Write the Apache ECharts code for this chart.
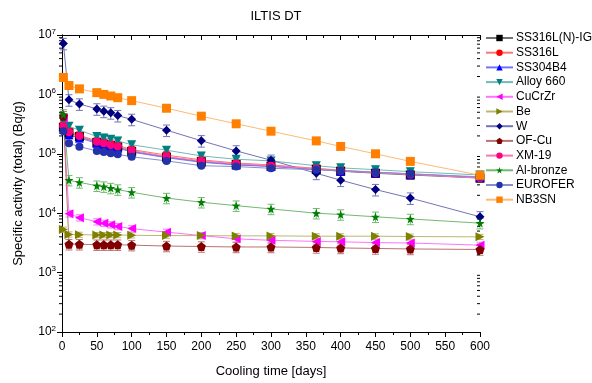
<!DOCTYPE html>
<html>
<head>
<meta charset="utf-8">
<script src="https://cdn.jsdelivr.net/npm/echarts@6/dist/echarts.min.js"></script>
<style>
  html, body { margin: 0; padding: 0; background: #fff; }
  #chart { width: 592px; height: 383px; }
</style>
</head>
<body>
<div id="chart"></div>
<script>
// cooling time points (days)
const days = [2, 10, 25, 50, 60, 70, 80, 100, 150, 200, 250, 300, 365, 400, 450, 500, 600];

const ss316lnIg = [2.8e5, 2.25e5, 1.95e5, 1.55e5, 1.45e5, 1.37e5, 1.3e5, 1.1e5, 8.8e4, 7.4e4, 6.6e4, 6.2e4, 5.5e4, 5.1e4, 4.7e4, 4.4e4, 3.9e4];
const ss316l = [3.0e5, 2.4e5, 2.05e5, 1.65e5, 1.55e5, 1.45e5, 1.38e5, 1.18e5, 9.5e4, 7.9e4, 7.0e4, 6.5e4, 5.7e4, 5.3e4, 4.9e4, 4.6e4, 4.0e4];
const ss304b4 = [2.6e5, 2.1e5, 1.85e5, 1.5e5, 1.4e5, 1.32e5, 1.25e5, 1.07e5, 8.6e4, 7.2e4, 6.5e4, 6.1e4, 5.5e4, 5.1e4, 4.8e4, 4.5e4, 4.0e4];
const alloy660 = [3.5e5, 2.9e5, 2.5e5, 1.95e5, 1.85e5, 1.75e5, 1.65e5, 1.42e5, 1.15e5, 9.2e4, 8.1e4, 7.6e4, 6.3e4, 5.8e4, 5.4e4, 5.0e4, 4.4e4];
const cucrzr = [4.0e5, 9.8e3, 8.4e3, 7.2e3, 6.8e3, 6.4e3, 6.0e3, 5.5e3, 4.8e3, 4.2e3, 3.7e3, 3.5e3, 3.35e3, 3.3e3, 3.2e3, 3.15e3, 2.9e3];
const be = [5.3e3, 4.4e3, 4.35e3, 4.3e3, 4.3e3, 4.3e3, 4.3e3, 4.25e3, 4.2e3, 4.2e3, 4.15e3, 4.15e3, 4.1e3, 4.1e3, 4.1e3, 4.05e3, 4.0e3];
const w = [7.2e6, 8.1e5, 6.9e5, 5.7e5, 5.2e5, 4.9e5, 4.4e5, 3.8e5, 2.5e5, 1.66e5, 1.12e5, 7.8e4, 4.7e4, 3.6e4, 2.5e4, 1.8e4, 8.7e3];
const ofCu = [4.3e5, 3.0e3, 3.0e3, 2.95e3, 2.95e3, 2.95e3, 2.95e3, 2.9e3, 2.8e3, 2.75e3, 2.7e3, 2.7e3, 2.65e3, 2.6e3, 2.55e3, 2.5e3, 2.45e3];
const xm19 = [2.9e5, 2.3e5, 2.0e5, 1.6e5, 1.5e5, 1.4e5, 1.33e5, 1.14e5, 9.0e4, 7.6e4, 6.8e4, 6.3e4, 5.6e4, 5.2e4, 4.8e4, 4.5e4, 3.9e4];
const alBronze = [4.6e5, 3.6e4, 3.3e4, 2.9e4, 2.8e4, 2.65e4, 2.5e4, 2.25e4, 1.8e4, 1.53e4, 1.34e4, 1.18e4, 1.0e4, 9.5e3, 8.7e3, 8.0e3, 6.8e3];
const eurofer = [2.4e5, 1.5e5, 1.32e5, 1.12e5, 1.07e5, 1.02e5, 9.8e4, 8.9e4, 7.6e4, 6.3e4, 6.1e4, 5.7e4, 5.4e4, 5.2e4, 4.9e4, 4.6e4, 4.1e4];
const nb3sn = [1.93e6, 1.41e6, 1.24e6, 1.07e6, 1.0e6, 0.94e6, 0.88e6, 0.785e6, 0.585e6, 0.43e6, 0.32e6, 0.24e6, 0.165e6, 0.133e6, 1.0e5, 7.45e4, 4.35e4];

// relative uncertainty per series
const relErr = {
  'SS316L(N)-IG': 0.15, 'SS316L': 0.15, 'SS304B4': 0.15, 'Alloy 660': 0.15,
  'CuCrZr': 0.12, 'Be': 0.1, 'W': 0.22, 'OF-Cu': 0.2, 'XM-19': 0.15,
  'Al-bronze': 0.2, 'EUROFER': 0.08, 'NB3SN': 0.08,
};

const xTicks = [0, 600, 50];
const yRange = [100, 1e7];
const minorMult = [2, 3, 4, 5, 6, 7, 8, 9];

const pentagon = 'path://M0,-10L9.51,-3.09L5.88,8.09L-5.88,8.09L-9.51,-3.09Z';
const star = 'path://M0,-10L2.35,-3.24L9.51,-3.09L3.8,1.24L5.88,8.09L0,4L-5.88,8.09L-3.8,1.24L-9.51,-3.09L-2.35,-3.24Z';

const defs = [
  { name: 'SS316L(N)-IG', data: ss316lnIg, color: '#000000', symbol: 'rect', rot: 0 },
  { name: 'SS316L', data: ss316l, color: '#ff0000', symbol: 'circle', rot: 0 },
  { name: 'SS304B4', data: ss304b4, color: '#0000ff', symbol: 'triangle', rot: 0 },
  { name: 'Alloy 660', data: alloy660, color: '#008080', symbol: 'triangle', rot: 180 },
  { name: 'CuCrZr', data: cucrzr, color: '#ff00ff', symbol: 'triangle', rot: 90 },
  { name: 'Be', data: be, color: '#808000', symbol: 'triangle', rot: -90 },
  { name: 'W', data: w, color: '#000080', symbol: 'diamond', rot: 0 },
  { name: 'OF-Cu', data: ofCu, color: '#800000', symbol: pentagon, rot: 0 },
  { name: 'XM-19', data: xm19, color: '#ff0080', symbol: 'circle', rot: 0 },
  { name: 'Al-bronze', data: alBronze, color: '#008000', symbol: star, rot: 0 },
  { name: 'EUROFER', data: eurofer, color: '#2233aa', symbol: 'circle', rot: 0 },
  { name: 'NB3SN', data: nb3sn, color: '#ff8000', symbol: 'rect', rot: 0 },
];

// mix a hex colour with white
const lighten = (hex, t) => {
  const n = parseInt(hex.slice(1), 16);
  const ch = [(n >> 16) & 255, (n >> 8) & 255, n & 255].map(c => Math.round(c + (255 - c) * t));
  return 'rgb(' + ch.join(',') + ')';
};

const minorVals = [];
for (let e = 2; e < 7; e++) {
  minorMult.forEach(m => minorVals.push(m * Math.pow(10, e)));
}

const series = [];
defs.forEach(d => {
  const f = relErr[d.name];
  const light = lighten(d.color, 0.45);
  series.push({
    name: d.name + ' err',
    type: 'custom',
    silent: true,
    z: 2,
    data: days.map((x, i) => [x, d.data[i] * (1 - f), d.data[i] * (1 + f)]),
    renderItem: (params, api) => {
      const lo = api.coord([api.value(0), api.value(1)]);
      const hi = api.coord([api.value(0), api.value(2)]);
      const c = 3.5;
      const st = { stroke: light, lineWidth: 1 };
      return {
        type: 'group',
        children: [
          { type: 'line', shape: { x1: lo[0], y1: lo[1], x2: hi[0], y2: hi[1] }, style: st },
          { type: 'line', shape: { x1: lo[0] - c, y1: lo[1], x2: lo[0] + c, y2: lo[1] }, style: st },
          { type: 'line', shape: { x1: hi[0] - c, y1: hi[1], x2: hi[0] + c, y2: hi[1] }, style: st },
        ],
      };
    },
  });
  series.push({
    name: d.name,
    type: 'line',
    z: 3,
    data: days.map((x, i) => [x, d.data[i]]),
    symbol: d.symbol,
    symbolRotate: d.rot,
    symbolSize: d.symbol === 'circle' ? 8 : 9,
    itemStyle: { color: d.color },
    lineStyle: { color: light, width: 1 },
  });
});

// minor log ticks on left (outside) and right (inside)
series.push({
  name: 'minor',
  type: 'custom',
  silent: true,
  data: minorVals.map(v => [0, v]),
  renderItem: (params, api) => {
    const l = api.coord([xTicks[0], api.value(1)]);
    const r = api.coord([xTicks[1], api.value(1)]);
    const st = { stroke: '#000', lineWidth: 1 };
    return {
      type: 'group',
      children: [
        { type: 'line', shape: { x1: l[0] - 3, y1: l[1], x2: l[0], y2: l[1] }, style: st },
        { type: 'line', shape: { x1: r[0] - 3, y1: r[1], x2: r[0], y2: r[1] }, style: st },
      ],
    };
  },
});

const chart = echarts.init(document.getElementById('chart'));
chart.setOption({
  animation: false,
  backgroundColor: '#fff',
  textStyle: { fontFamily: 'Liberation Sans, Arial, sans-serif' },
  title: {
    text: 'ILTIS DT',
    left: 271,
    textAlign: 'center',
    top: 5,
    textStyle: { fontSize: 13, fontWeight: 'normal', color: '#000' },
  },
  legend: {
    orient: 'vertical',
    left: 485,
    top: 32,
    padding: 0,
    itemWidth: 27,
    itemHeight: 8,
    itemGap: 2.7,
    data: defs.map(d => d.name),
    textStyle: { fontSize: 12, color: '#000', padding: [0, 0, 0, -2] },
  },
  grid: { left: 62, right: 112, top: 35, bottom: 49 },
  xAxis: [
    {
      type: 'value',
      min: xTicks[0],
      max: xTicks[1],
      interval: xTicks[2],
      name: 'Cooling time [days]',
      nameLocation: 'middle',
      nameGap: 33,
      nameTextStyle: { fontSize: 13, color: '#000' },
      axisLine: { lineStyle: { color: '#000' } },
      axisTick: { length: 5, lineStyle: { color: '#000' } },
      minorTick: { show: true, splitNumber: 2, length: 3, lineStyle: { color: '#000' } },
      axisLabel: { fontSize: 12, color: '#000', margin: 9 },
      splitLine: { show: false },
    },
    {
      type: 'value',
      position: 'top',
      min: xTicks[0],
      max: xTicks[1],
      interval: xTicks[2],
      axisLine: { lineStyle: { color: '#000' } },
      axisTick: { inside: true, length: 5, lineStyle: { color: '#000' } },
      minorTick: { show: true, splitNumber: 2, length: 3, lineStyle: { color: '#000' } },
      axisLabel: { show: false },
      splitLine: { show: false },
    },
  ],
  yAxis: [
    {
      type: 'log',
      logBase: 10,
      min: yRange[0],
      max: yRange[1],
      name: 'Specific activity (total) (Bq/g)',
      nameLocation: 'middle',
      nameGap: 37,
      nameTextStyle: { fontSize: 13, color: '#000' },
      axisLine: { lineStyle: { color: '#000' } },
      axisTick: { length: 5, lineStyle: { color: '#000' } },
      axisLabel: {
        margin: 6,
        formatter: v => '{b|10}{s|' + Math.round(Math.log10(v)) + '}',
        rich: {
          b: { fontSize: 12, color: '#000' },
          s: { fontSize: 8, color: '#000', verticalAlign: 'top', padding: [0, 0, 7, 0] },
        },
      },
      splitLine: { show: false },
    },
    {
      type: 'log',
      logBase: 10,
      position: 'right',
      min: yRange[0],
      max: yRange[1],
      axisLine: { lineStyle: { color: '#000' } },
      axisTick: { inside: true, length: 5, lineStyle: { color: '#000' } },
      axisLabel: { show: false },
      splitLine: { show: false },
    },
  ],
  series: series,
});
</script>
</body>
</html>
